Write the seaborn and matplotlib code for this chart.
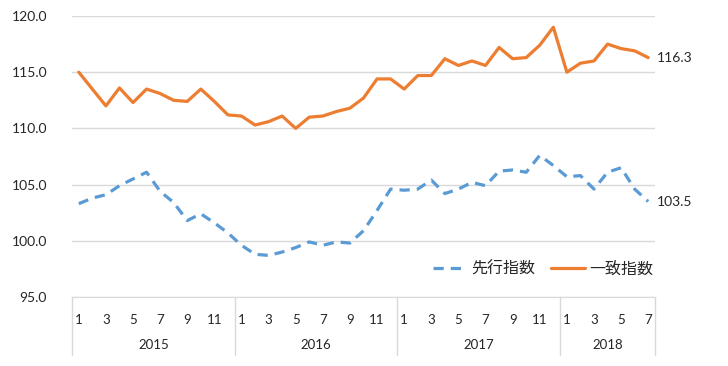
import numpy as np
import pandas as pd
import matplotlib
matplotlib.use("Agg")
import matplotlib.pyplot as plt
import matplotlib.transforms as mtransforms
import seaborn as sns

# monthly data, Jan 2015 - Jul 2018
years = ["2015", "2016", "2017", "2018"]
months_per_year = [12, 12, 12, 7]
leading = [103.3, 103.8, 104.1, 104.9, 105.5, 106.1, 104.4, 103.4, 101.8, 102.4, 101.6, 100.7,
           99.6, 98.8, 98.7, 99.0, 99.4, 99.9, 99.6, 99.9, 99.8, 100.9, 102.7, 104.6,
           104.5, 104.6, 105.4, 104.2, 104.6, 105.2, 104.9, 106.2, 106.3, 106.1, 107.6, 106.7,
           105.7, 105.8, 104.6, 106.1, 106.5, 104.6, 103.5]
coincident = [115.0, 113.5, 112.0, 113.6, 112.3, 113.5, 113.1, 112.5, 112.4, 113.5, 112.4, 111.2,
              111.1, 110.3, 110.6, 111.1, 110.0, 111.0, 111.1, 111.5, 111.8, 112.7, 114.4, 114.4,
              113.5, 114.7, 114.7, 116.2, 115.6, 116.0, 115.6, 117.2, 116.2, 116.3, 117.4, 119.0,
              115.0, 115.8, 116.0, 117.5, 117.1, 116.9, 116.3]
labels = ["先行指数", "一致指数"]
colors = ["#5b9bd5", "#ed7d31"]

months = [m for n in months_per_year for m in range(1, n + 1)]
idx = np.arange(len(months))
df = pd.DataFrame({"idx": np.concatenate([idx, idx]),
                   "value": leading + coincident,
                   "series": [labels[0]] * len(idx) + [labels[1]] * len(idx)})

sns.set_style("white")
plt.rcParams["font.family"] = ["Lato", "Noto Sans CJK JP", "DejaVu Sans"]

fig = plt.figure(figsize=(7.28, 3.66), dpi=100)
ax = fig.add_axes([72 / 728, 1 - 297 / 366, 583 / 728, 281 / 366])

sns.lineplot(data=df[df.series == labels[0]], x="idx", y="value", ax=ax,
             color=colors[0], linewidth=2.3, label=labels[0], dashes=False)
sns.lineplot(data=df[df.series == labels[1]], x="idx", y="value", ax=ax,
             color=colors[1], linewidth=2.3, label=labels[1])
ax.lines[0].set_dashes((3.2, 2.2))
ax.lines[0].set_dash_capstyle("butt")

ax.set_xlim(-0.5, len(idx) - 0.5)
ax.set_ylim(95, 120)
ax.set_yticks(np.arange(95, 121, 5))
ax.set_yticklabels([f"{v:.1f}" for v in np.arange(95, 121, 5)], fontsize=10)
ax.yaxis.grid(True, color="#d9d9d9", linewidth=1)
ax.set_axisbelow(True)
for s in ["left", "right", "top"]:
    ax.spines[s].set_visible(False)
ax.spines["bottom"].set_color("#d9d9d9")
ax.tick_params(axis="y", length=0, pad=18)

odd = [i for i in idx if months[i] % 2 == 1]
ax.set_xticks(odd)
ax.set_xticklabels([str(months[i]) for i in odd], fontsize=9.5)
ax.tick_params(axis="x", length=0, pad=12)
ax.set_xlabel("")
ax.set_ylabel("")

# year labels and separators
trans = mtransforms.blended_transform_factory(ax.transData, ax.transAxes)
start = 0
bounds = [-0.5]
for y, n in zip(years, months_per_year):
    ax.text(start + (n - 1) / 2, -0.17, y, transform=trans, ha="center", va="center", fontsize=9.5)
    start += n
    bounds.append(start - 0.5)
for b in bounds:
    ax.plot([b, b], [0, -0.207], transform=trans, color="#d9d9d9", linewidth=1, clip_on=False)

# end labels
ax.annotate(f"{coincident[-1]:.1f}", (idx[-1], coincident[-1]), xytext=(9, 0),
            textcoords="offset pixels", va="center", fontsize=10)
ax.annotate(f"{leading[-1]:.1f}", (idx[-1], leading[-1]), xytext=(9, -1),
            textcoords="offset pixels", va="center", fontsize=10)

ax.legend(loc="center right", bbox_to_anchor=(1.0, 0.10), ncol=2, frameon=False,
          fontsize=11.5, handlelength=2.1, columnspacing=1.0, handletextpad=0.3,
          borderaxespad=0, borderpad=0.1)

fig.savefig("out.png", dpi=100)
